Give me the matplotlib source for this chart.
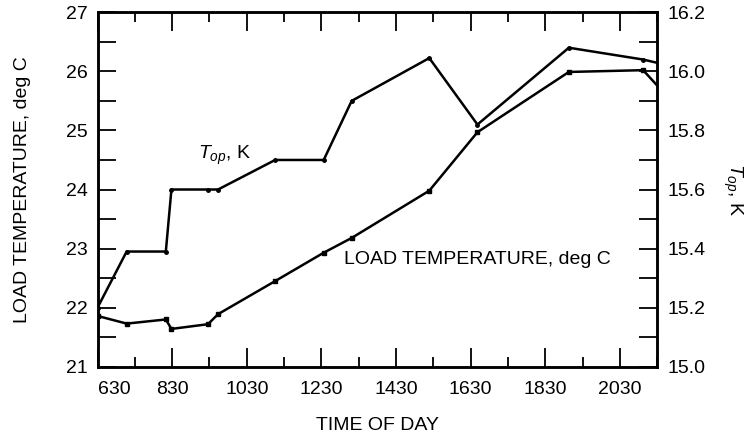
import matplotlib
matplotlib.use("Agg")
import matplotlib.pyplot as plt
from matplotlib.ticker import FixedLocator, MultipleLocator

plt.rcParams['font.family'] = ['Liberation Sans', 'DejaVu Sans']
plt.rcParams['mathtext.fontset'] = 'custom'
plt.rcParams['mathtext.it'] = 'Liberation Sans:italic'
plt.rcParams['mathtext.rm'] = 'Liberation Sans'

# time of day in decimal hours (last point lies past the right edge)
hours = [6.5, 7.28, 8.33, 8.48, 9.46, 9.73, 11.26, 12.56, 13.31,
         15.39, 16.68, 19.13, 21.12, 21.8]
load_temp = [21.86, 21.73, 21.80, 21.64, 21.72, 21.89, 22.45, 22.93, 23.18,
             23.98, 24.97, 25.99, 26.02, 25.55]
t_op = [15.20, 15.39, 15.39, 15.60, 15.60, 15.60, 15.70, 15.70, 15.90,
        16.045, 15.82, 16.08, 16.04, 16.02]

major_hours = [6.5, 8.5, 10.5, 12.5, 14.5, 16.5, 18.5, 20.5]
major_labels = ["630", "830", "1030", "1230", "1430", "1630", "1830", "2030"]

fs = 14
fig = plt.figure(figsize=(7.52, 4.34), dpi=100)
ax = fig.add_axes([0.1297, 0.155, 0.7444, 0.8167])
ax2 = ax.twinx()

ax.plot(hours, load_temp, color='black', lw=1.8, marker='s', ms=3.5)
ax2.plot(hours, t_op, color='black', lw=1.8, marker='o', ms=2.5)

ax.set_xlim(6.5, 21.5)
ax.set_ylim(21, 27)
ax2.set_ylim(15.0, 16.2)

ax.xaxis.set_major_locator(FixedLocator(major_hours))
ax.set_xticklabels(major_labels)
ax.xaxis.set_minor_locator(MultipleLocator(1.0, offset=0.5))
ax.yaxis.set_major_locator(MultipleLocator(1))
ax.yaxis.set_minor_locator(MultipleLocator(0.5))
ax2.yaxis.set_major_locator(MultipleLocator(0.2))
ax2.yaxis.set_minor_locator(MultipleLocator(0.1))
ax2.set_yticklabels([f"{v:.1f}" for v in ax2.get_yticks()])

ax.tick_params(axis='x', which='major', direction='in', length=14, width=1.3,
               top=True, labelsize=fs, pad=10)
ax.tick_params(axis='x', which='minor', direction='in', length=7.5, width=1.3, top=True)
ax.tick_params(axis='y', which='both', direction='in', length=13, width=1.3,
               labelsize=fs, pad=7)
ax2.tick_params(axis='y', which='both', direction='in', length=13, width=1.3,
                labelsize=fs, pad=7)
ax.get_xticklabels()[0].set_horizontalalignment('left')

for a in (ax, ax2):
    for s in a.spines.values():
        s.set_linewidth(1.8)

ax.set_xlabel("TIME OF DAY", fontsize=fs, labelpad=14)
ax.set_ylabel("LOAD TEMPERATURE, deg C", fontsize=fs, labelpad=25)
ax2.set_ylabel(r"$T_{op}$, K", fontsize=fs, rotation=-90, labelpad=28)

ax.text(0.1795, 0.597, r"$T_{op}$, K", transform=ax.transAxes, fontsize=fs,
        ha='left', va='center')
ax.text(0.44, 0.302, "LOAD TEMPERATURE, deg C", transform=ax.transAxes,
        fontsize=fs, ha='left', va='center')

fig.savefig("out.png", dpi=100)
